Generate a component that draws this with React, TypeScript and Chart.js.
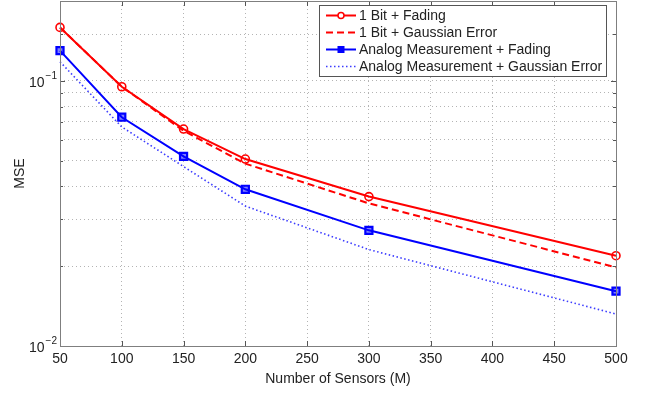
import React, { useEffect, useRef } from 'react';
import { Chart, registerables } from 'chart.js';

Chart.register(...registerables);

// ---- data ----
const sensors = [50, 100, 150, 200, 300, 500];
const oneBitFading = [0.159, 0.095, 0.0658, 0.0507, 0.0366, 0.0219];
const oneBitGaussian = [0.159, 0.095, 0.0648, 0.0487, 0.0345, 0.0198];
const analogFading = [0.130, 0.0729, 0.0519, 0.039, 0.0273, 0.0161];
const analogGaussian = [0.118, 0.067, 0.0475, 0.0337, 0.0231, 0.0132];

const seriesLabels = [
  '1 Bit + Fading',
  '1 Bit + Gaussian Error',
  'Analog Measurement + Fading',
  'Analog Measurement + Gaussian Error',
];

const xTickValues = [50, 100, 150, 200, 250, 300, 350, 400, 450, 500];
const yMajorTicks = [0.01, 0.1];
const yMajorBase = ['10', '10'];
const yMajorExp = ['\u22122', '\u22121'];
const xTitle = 'Number of Sensors (M)';
const yTitle = 'MSE';

const FONT = "'Liberation Sans', Arial, Helvetica, sans-serif";
const TEXT = '#222222';
const AXIS = '#7f7f7f';
const GRID = '#b4b4b4';

const toXY = (ys: number[]) => ys.map((y, i) => ({ x: sensors[i], y }));

const framePlugin = {
  id: 'matlabFrame',
  afterDraw(chart: any) {
    const { ctx, chartArea } = chart;
    const { left, right, top, bottom } = chartArea;
    const xs = chart.scales.x;
    const ys = chart.scales.y;
    ctx.save();

    // inner tick marks
    ctx.strokeStyle = '#555555';
    ctx.lineWidth = 1;
    ctx.beginPath();
    xTickValues.forEach((v) => {
      const px = Math.round(xs.getPixelForValue(v)) + 0.5;
      ctx.moveTo(px, bottom);
      ctx.lineTo(px, bottom - 5);
      ctx.moveTo(px, top);
      ctx.lineTo(px, top + 5);
    });
    ys.ticks.forEach((t: any) => {
      const py = Math.round(ys.getPixelForValue(t.value)) + 0.5;
      const major = yMajorTicks.some((m) => Math.abs(m - t.value) < 1e-9);
      const len = major ? 5 : 3;
      ctx.moveTo(left, py);
      ctx.lineTo(left + len, py);
      ctx.moveTo(right, py);
      ctx.lineTo(right - len, py);
    });
    ctx.stroke();

    // axes box
    ctx.strokeStyle = AXIS;
    ctx.lineWidth = 1;
    ctx.strokeRect(Math.round(left) + 0.5, Math.round(top) + 0.5, Math.round(right - left), Math.round(bottom - top));

    // y tick labels with superscript exponent
    ctx.fillStyle = TEXT;
    ctx.textBaseline = 'middle';
    yMajorTicks.forEach((v, i) => {
      const py = ys.getPixelForValue(v);
      ctx.font = `10px ${FONT}`;
      ctx.textAlign = 'left';
      const expW = ctx.measureText(yMajorExp[i]).width;
      const expX = left - 3 - expW;
      ctx.fillText(yMajorExp[i], expX, py - 5);
      ctx.font = `14px ${FONT}`;
      ctx.textAlign = 'right';
      ctx.fillText(yMajorBase[i], expX - 1, py + 2);
    });

    // legend
    ctx.font = `14px ${FONT}`;
    const datasets = chart.data.datasets;
    let maxW = 0;
    datasets.forEach((d: any) => {
      maxW = Math.max(maxW, ctx.measureText(d.label).width);
    });
    const rowH = 17;
    const sampleW = 30;
    const boxW = 7 + sampleW + 3 + maxW + 4;
    const boxH = rowH * datasets.length + 3;
    const boxR = right - 10;
    const boxL = Math.round(boxR - boxW);
    const boxT = Math.round(top + 4);
    ctx.fillStyle = '#ffffff';
    ctx.fillRect(boxL, boxT, boxW, boxH);
    ctx.strokeStyle = '#555555';
    ctx.lineWidth = 1;
    ctx.strokeRect(boxL + 0.5, boxT + 0.5, Math.round(boxW), boxH);

    datasets.forEach((d: any, i: number) => {
      const cy = boxT + 2 + rowH * i + rowH / 2;
      const sx = boxL + 7;
      ctx.save();
      ctx.strokeStyle = d.borderColor;
      ctx.lineWidth = d.borderWidth;
      ctx.setLineDash(d.borderDash || []);
      ctx.beginPath();
      ctx.moveTo(sx, cy);
      ctx.lineTo(sx + sampleW, cy);
      ctx.stroke();
      ctx.setLineDash([]);
      const mx = sx + sampleW / 2;
      if (d.pointRadius > 0) {
        ctx.lineWidth = 1.5;
        if (d.pointStyle === 'circle') {
          ctx.fillStyle = '#ffffff';
          ctx.beginPath();
          ctx.arc(mx, cy, 3, 0, Math.PI * 2);
          ctx.fill();
          ctx.stroke();
        } else {
          ctx.fillStyle = d.borderColor;
          ctx.fillRect(mx - 3.5, cy - 3.5, 7, 7);
        }
      }
      ctx.restore();
      ctx.fillStyle = TEXT;
      ctx.textAlign = 'left';
      ctx.textBaseline = 'middle';
      ctx.font = `14px ${FONT}`;
      ctx.fillText(d.label, sx + sampleW + 3, cy + 0.5);
    });

    ctx.restore();
  },
};

export default function App() {
  const ref = useRef<HTMLCanvasElement | null>(null);

  useEffect(() => {
    if (!ref.current) return;
    const chart = new Chart(ref.current, {
      type: 'line',
      data: {
        datasets: [
          {
            label: seriesLabels[0],
            data: toXY(oneBitFading),
            borderColor: '#ff0000',
            backgroundColor: 'rgba(0,0,0,0)',
            borderWidth: 2,
            pointStyle: 'circle',
            pointRadius: 4,
            pointBorderWidth: 1.6,
            pointBackgroundColor: 'rgba(0,0,0,0)',
            pointBorderColor: '#ff0000',
            clip: false,
          },
          {
            label: seriesLabels[1],
            data: toXY(oneBitGaussian),
            borderColor: '#ff0000',
            backgroundColor: 'rgba(0,0,0,0)',
            borderWidth: 2,
            borderDash: [7, 4],
            pointRadius: 0,
            clip: false,
          },
          {
            label: seriesLabels[2],
            data: toXY(analogFading),
            borderColor: '#0000ff',
            backgroundColor: 'rgba(0,0,0,0)',
            borderWidth: 2,
            pointStyle: 'rect',
            pointRadius: 5,
            pointBorderWidth: 2.2,
            pointBackgroundColor: 'rgba(0,0,255,0.5)',
            pointBorderColor: '#0000ff',
            clip: false,
          },
          {
            label: seriesLabels[3],
            data: toXY(analogGaussian),
            borderColor: '#3c3cff',
            backgroundColor: 'rgba(0,0,0,0)',
            borderWidth: 1.6,
            borderDash: [1.5, 2.5],
            pointRadius: 0,
            clip: false,
          },
        ],
      },
      options: {
        animation: false,
        responsive: false,
        maintainAspectRatio: false,
        layout: { autoPadding: false, padding: { top: 1, right: 30, left: 0, bottom: 0 } },
        plugins: {
          legend: { display: false },
          tooltip: { enabled: false },
        },
        scales: {
          x: {
            type: 'linear',
            min: 50,
            max: 500,
            afterFit: (s: any) => {
              s.height = 48;
            },
            afterBuildTicks: (s: any) => {
              s.ticks = xTickValues.map((v) => ({ value: v }));
            },
            ticks: {
              color: TEXT,
              padding: 5,
              maxRotation: 0,
              font: { family: FONT, size: 14 },
              callback: (v: any) => String(v),
            },
            grid: { color: GRID, lineWidth: 1, drawTicks: false },
            border: { display: false, dash: [1, 3] },
            title: {
              display: true,
              text: xTitle,
              color: TEXT,
              font: { family: FONT, size: 14 },
              padding: { top: 0, bottom: 6 },
            },
          },
          y: {
            type: 'logarithmic',
            min: 0.01,
            max: 0.2,
            afterFit: (s: any) => {
              s.width = 60;
            },
            ticks: { display: false, font: { size: 1 }, callback: () => '' },
            grid: { color: GRID, lineWidth: 1, drawTicks: false },
            border: { display: false, dash: [1, 3] },
            title: {
              display: true,
              text: yTitle,
              color: TEXT,
              font: { family: FONT, size: 14 },
              padding: { top: 12, bottom: 0 },
            },
          },
        },
      },
      plugins: [framePlugin],
    });
    return () => chart.destroy();
  }, []);

  return (
    <div style={{ position: 'fixed', left: 0, top: 0, width: 646, height: 394, background: '#ffffff' }}>
      <canvas ref={ref} width={646} height={394} style={{ display: 'block' }} />
    </div>
  );
}
